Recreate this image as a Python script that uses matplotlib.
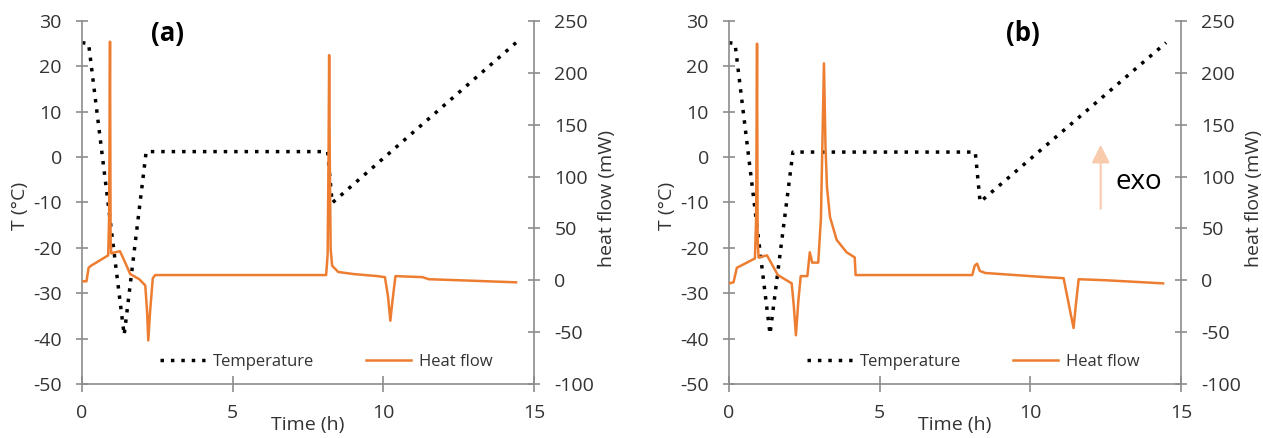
import numpy as np
import matplotlib
matplotlib.use("Agg")
import matplotlib.pyplot as plt

plt.rcParams['font.family'] = ['Open Sans', 'DejaVu Sans']
plt.rcParams['axes.unicode_minus'] = False

# region data
# panel (a)
temp_t_a = [0.0, 0.22, 1.40, 2.13, 8.15, 8.30, 14.40]
temp_a = [25.2, 25.0, -39.2, 1.2, 1.2, -10.1, 25.2]
heat_t_a = [0.0, 0.15, 0.22, 0.30, 0.87, 0.90, 0.93, 0.95, 0.97, 1.26, 1.45, 1.60, 1.90,
            2.10, 2.16, 2.20, 2.26, 2.35, 2.43, 8.10, 8.15, 8.18, 8.20, 8.22, 8.25, 8.30,
            8.50, 9.00, 9.80, 10.05, 10.15, 10.23, 10.30, 10.40, 11.30, 11.50, 12.50, 14.40]
heat_a = [-1, -1, 12, 14, 24, 60, 230, 40, 26, 28, 16, 6, 1,
          -5, -30, -58, -30, 2, 5, 5, 25, 120, 217, 120, 30, 14,
          8, 6, 4, 3, -15, -39, -20, 4, 3, 1, 0, -2]

# panel (b)
temp_t_b = [0.0, 0.20, 1.36, 2.12, 8.17, 8.33, 14.50]
temp_b = [25.2, 25.0, -39.0, 1.1, 1.1, -9.9, 25.2]
heat_t_b = [0.0, 0.15, 0.26, 0.86, 0.90, 0.93, 0.95, 0.98, 1.26, 1.45, 1.62, 2.08,
            2.15, 2.22, 2.30, 2.38, 2.60, 2.68, 2.76, 2.96, 3.05, 3.15, 3.20, 3.25,
            3.35, 3.57, 3.90, 4.17, 4.20, 8.07, 8.15, 8.23, 8.32, 8.50, 9.50, 10.50,
            11.10, 11.25, 11.43, 11.52, 11.60, 12.50, 14.40]
heat_b = [-3, -2, 12, 21, 60, 228, 40, 22, 24, 14, 5, -3,
          -25, -53, -20, 4, 4, 27, 17, 17, 60, 209, 130, 90,
          61, 39, 27, 22, 5, 5, 14, 16, 9, 7, 5, 3,
          2, -20, -46, -20, 1, 0, -3]

x_ticks = [0, 5, 10, 15]
t_ticks = list(range(-50, 31, 10))
h_ticks = list(range(-100, 251, 50))
# endregion

ORANGE = '#ED7D31'
GREY = '#8C8C8C'
TXT = '#333333'


def style_axis(ax, side):
    for s in ['top', 'right', 'left', 'bottom']:
        ax.spines[s].set_visible(False)
    ax.spines[side].set_visible(True)
    ax.spines[side].set_color(GREY)
    ax.spines[side].set_linewidth(1.2)
    ax.tick_params(axis='both', direction='inout', length=9, width=1.2, color=GREY,
                   labelcolor=TXT, labelsize=14, pad=10)


def panel(ax, tt, temp, ht, heat, tag, tag_x):
    ax.set_xlim(0, 15)
    ax.set_ylim(-50, 30)
    ax.set_xticks(x_ticks)
    ax.set_yticks(t_ticks)
    style_axis(ax, 'left')
    ax.spines['bottom'].set_visible(True)
    ax.spines['bottom'].set_color(GREY)
    ax.spines['bottom'].set_linewidth(1.2)
    ax.tick_params(axis='x', length=11, pad=9)
    l1, = ax.plot(tt, temp, color='black', linestyle=(0, (1.0, 2.0)), linewidth=2.5,
                  label='Temperature')
    ax.set_xlabel('Time (h)', fontsize=14, color=TXT)
    ax.xaxis.set_label_coords(0.5, -0.088)
    ax.set_ylabel('T (°C)', fontsize=14, color=TXT)
    ax.yaxis.set_label_coords(-0.118, 0.49)

    ax2 = ax.twinx()
    ax2.set_ylim(-100, 250)
    ax2.set_yticks(h_ticks)
    style_axis(ax2, 'right')
    l2, = ax2.plot(ht, heat, color=ORANGE, linewidth=1.8, label='Heat flow')
    ax2.set_ylabel('heat flow (mW)', fontsize=14, color=TXT)
    ax2.yaxis.set_label_coords(1.142, 0.51)

    ax2.legend(handles=[l1, l2], loc='center', bbox_to_anchor=(0.54, 0.06), ncol=2,
               frameon=False, fontsize=12, handlelength=2.7, handletextpad=0.5,
               columnspacing=3.1, labelcolor=TXT)
    ax.text(tag_x, 0.965, tag, transform=ax.transAxes, fontsize=18.5, fontweight='bold',
            ha='center', va='center', color='black')
    return ax2


fig = plt.figure(figsize=(12.63, 4.38), dpi=100)
ax_a = fig.add_axes([0.0649, 0.1233, 0.358, 0.829])
ax_b = fig.add_axes([0.5772, 0.1233, 0.358, 0.829])

panel(ax_a, temp_t_a, temp_a, heat_t_a, heat_a, '(a)', 0.19)
panel(ax_b, temp_t_b, temp_b, heat_t_b, heat_b, '(b)', 0.65)

# exo arrow in panel (b)
ax_b.annotate('', xy=(12.33, 2.7), xytext=(12.33, -11.4),
              arrowprops=dict(arrowstyle='-|>,head_width=0.55,head_length=1.1',
                              mutation_scale=10, color='#F8CBAD', lw=1.5,
                              shrinkA=0, shrinkB=0))
ax_b.text(12.82, -5.5, 'exo', fontsize=20, color='black', va='center', ha='left')

fig.savefig('out.png', dpi=100)
